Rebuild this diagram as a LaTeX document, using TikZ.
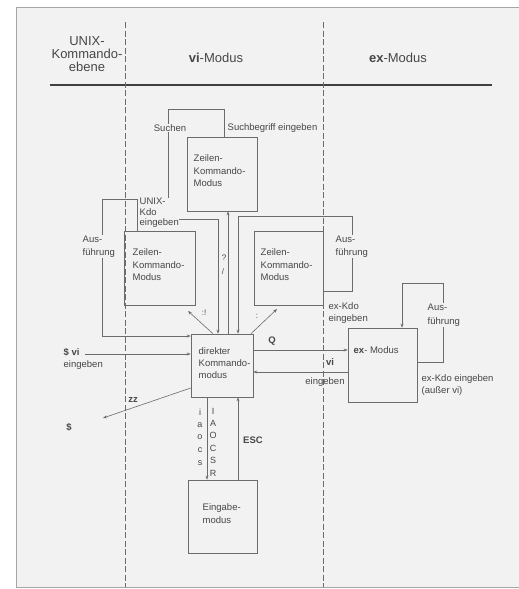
\documentclass[tikz,border=0pt]{standalone}
\usepackage{fontspec}
\setmainfont{Liberation Sans}
\usetikzlibrary{arrows.meta,calc}
\definecolor{paper}{gray}{0.95}
\definecolor{ink}{gray}{0.42}
\definecolor{txt}{gray}{0.28}
\begin{document}
\begin{tikzpicture}[x=1pt,y=-1pt,
  box/.style={draw=ink, line width=0.6pt, inner sep=0pt},
  lbl/.style={font=\fontsize{9.5}{12.5}\selectfont, text=txt, inner sep=0.5pt, align=left},
  flbl/.style={lbl, fill=paper},
  hdr/.style={font=\fontsize{13}{13}\selectfont, text=txt, inner sep=0pt, align=center},
  ln/.style={draw=ink, line width=0.6pt},
  arr/.style={ln, -{Stealth[length=4pt,width=3pt]}},
  sep/.style={draw=ink, line width=0.6pt, dash pattern=on 6pt off 2.5pt},
  letter/.style={font=\fontsize{9}{10}\selectfont, text=txt, inner sep=0pt}
]
\useasboundingbox (0,0) rectangle (519,589);
\fill[white] (0,0) rectangle (519,589);
\fill[paper] (16,7) rectangle (519,587);
\draw[gray!70, line width=0.8pt] (519,7) -- (16,7) -- (16,587) -- (519,587);

% header
\node[hdr] (hunix) at (87,54) {UNIX-\\Kommando-\\ebene};
\node[hdr] (hvi) at (216,58) {\textbf{vi}-Modus};
\node[hdr] (hex) at (398,58) {\textbf{ex}-Modus};
\draw[black!75, line width=2.6pt] (50,85) -- (492,85);
\draw[sep] (125,22) -- (125,587);
\draw[sep] (323,22) -- (323,587);

% boxes
\node[box, minimum width=70pt, minimum height=74pt] (ztop) at (222,174) {};
\node[box, minimum width=71pt, minimum height=74pt] (zleft) at (159.5,268) {};
\node[box, minimum width=69pt, minimum height=74pt] (zright) at (288.5,268) {};
\node[box, minimum width=62pt, minimum height=63pt] (direkt) at (222,365.5) {};
\node[box, minimum width=69pt, minimum height=74pt] (exbox) at (382.5,365) {};
\node[box, minimum width=69pt, minimum height=73pt] (eingabe) at (222.5,516.5) {};

% box texts
\node[lbl, anchor=north west] (ztopt) at (193,154) {Zeilen-\\Kommando-\\Modus};
\node[lbl, anchor=north west] (zleftt) at (132,248) {Zeilen-\\Kommando-\\Modus};
\node[lbl, anchor=north west] (zrightt) at (260,248) {Zeilen-\\Kommando-\\Modus};
\node[lbl, anchor=north west, font=\fontsize{9.5}{12}\selectfont] (direktt) at (198,347) {direkter\\Kommando-\\modus};
\node[lbl, anchor=west] (ext) at (353,350) {\textbf{ex}- Modus};
\node[lbl, anchor=north west] (eingabet) at (202,503) {Eingabe-\\modus};

% coordinates for bends
\coordinate (s1) at (224,109);
\coordinate (s2) at (168,109);
\coordinate (s4) at (218,219);
\coordinate (r0) at (352,291);
\coordinate (r1) at (352,216);
\coordinate (r2) at (238,216);
\coordinate (m) at (228,0);
\coordinate (l1) at (137,199);
\coordinate (l2) at (102,199);
\coordinate (l3) at (102,336);
\coordinate (d1) at (213,0);
\coordinate (d2) at (188,311);
\coordinate (e1) at (251,0);
\coordinate (e2) at (277,309);
\coordinate (v0) at (85,354);
\coordinate (z0) at (0,388);
\coordinate (zz) at (103,418);
\coordinate (q) at (0,350);
\coordinate (vv) at (0,372);
\coordinate (x0) at (443,362);
\coordinate (x1) at (443,283);
\coordinate (x2) at (402,283);
\coordinate (b1) at (207,0);
\coordinate (b2) at (238,0);

% connectors
\draw[arr] (ztop.north -| s1) |- (s2) |- (s4) -- (direkt.north -| s4);
\draw[arr] (zright.east |- r0) -- (r0) -- (r1) -- (r2) -- (direkt.north -| r2);
\draw[arr] (direkt.north -| m) -- (ztop.south -| m);
\draw[arr] (zleft.north -| l1) -- (l1) -- (l2) -- (l3) -- (direkt.west |- l3);
\draw[arr] (direkt.north -| d1) -- (d2);
\draw[arr] (direkt.north -| e1) -- (e2);
\draw[arr] (v0) -- (direkt.west |- v0);
\draw[arr] (direkt.west |- z0) -- (zz);
\draw[arr] (direkt.east |- q) -- (exbox.west |- q);
\draw[arr] (exbox.west |- vv) -- (direkt.east |- vv);
\draw[arr] (exbox.east |- x0) -- (x0) -- (x1) -- (x2) -- (exbox.north -| x2);
\draw[arr] (direkt.south -| b1) -- (eingabe.north -| b1);
\draw[arr] (eingabe.north -| b2) -- (direkt.south -| b2);

% labels
\node[flbl] (lsuchen) at (170,128) {Suchen};
\node[flbl, anchor=west] (lsuchb) at (227,128) {Suchbegriff eingeben};
\node[flbl, anchor=north west, font=\fontsize{9.5}{10.5}\selectfont] (lunix) at (139,197.5) {UNIX-\\Kdo\\eingeben};
\node[flbl, anchor=north west, font=\fontsize{9.5}{13.5}\selectfont] (lausl) at (82,235) {Aus-\\führung};
\node[flbl, anchor=north west, font=\fontsize{9.5}{13.5}\selectfont] (lausr) at (335,235) {Aus-\\führung};
\node[flbl, anchor=north west, font=\fontsize{9.5}{14.5}\selectfont] (lausx) at (427,303) {Aus-\\führung};
\node[flbl, anchor=north west, font=\fontsize{9.5}{12}\selectfont] (lexkdo) at (328,302) {ex-Kdo\\eingeben};
\node[lbl, font=\fontsize{8}{9}\selectfont] (lq) at (224,258) {?};
\node[lbl, font=\fontsize{8}{9}\selectfont] (lsl) at (223,272) {/};
\node[lbl, font=\fontsize{8}{9}\selectfont] (lcol1) at (204,313) {:!};
\node[lbl, font=\fontsize{8}{9}\selectfont] (lcol2) at (257,316) {:};
\node[lbl] (lQ) at (272,341) {\textbf{Q}};
\node[lbl] (lvi) at (330,362) {\textbf{vi}};
\node[lbl] (lvieing) at (325,382) {eingeben};
\node[lbl, anchor=north west, font=\fontsize{9.5}{12}\selectfont] (lexk2) at (421,374) {ex-Kdo eingeben\\(außer vi)};
\node[lbl, anchor=north west, font=\fontsize{9.5}{11.5}\selectfont] (ldvi) at (63,348) {\textbf{\$ vi}\\eingeben};
\node[lbl] (lzz) at (133,400) {\textbf{zz}};
\node[lbl] (ldollar) at (69,427) {\textbf{\$}};
\node[lbl] (lesc) at (253,440) {\textbf{ESC}};

% insert commands
\node[letter] (c1) at (200,412) {i};
\node[letter] (c2) at (200,425) {a};
\node[letter] (c3) at (200,437) {o};
\node[letter] (c4) at (200,450) {c};
\node[letter] (c5) at (200,463) {s};
\node[letter] (C1) at (213,411) {I};
\node[letter] (C2) at (213,423) {A};
\node[letter] (C3) at (213,435) {O};
\node[letter] (C4) at (213,448) {C};
\node[letter] (C5) at (213,460) {S};
\node[letter] (C6) at (213,473) {R};
\end{tikzpicture}
\end{document}
